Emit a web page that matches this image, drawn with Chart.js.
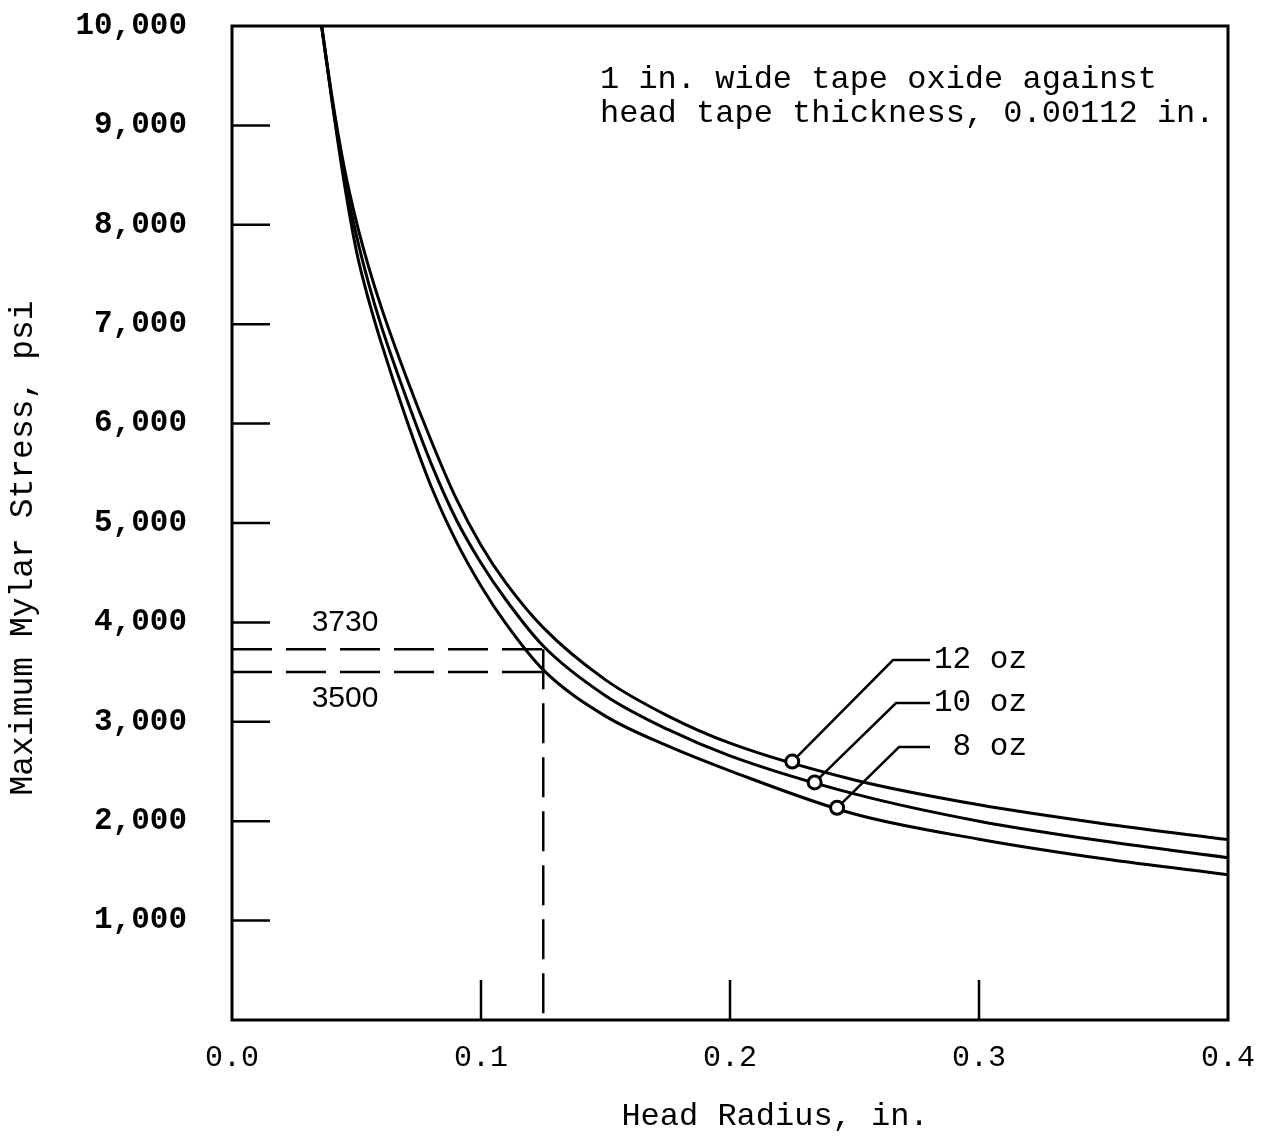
<!doctype html>
<html>
<head>
<meta charset="utf-8">
<script src="https://cdn.jsdelivr.net/npm/chart.js"></script>
<style>
body { margin: 0; background: #fff; }
#chart { display: block; }
</style>
</head>
<body>
<canvas id="chart" width="1272" height="1139"></canvas>
<script>
// head radius (in.) and max mylar stress (psi) for three tape tensions
var radius   = [0.036, 0.04, 0.045, 0.05, 0.055, 0.06, 0.07, 0.08, 0.09, 0.1, 0.11, 0.125, 0.15, 0.175, 0.2, 0.25, 0.3, 0.35, 0.4];
var stress12 = [10000, 9312, 8587, 8027, 7567, 7167, 6467, 5827, 5247, 4777, 4397, 3947, 3422, 3060, 2785, 2415, 2165, 1975, 1815];
var stress10 = [10000, 9288, 8498, 7888, 7398, 6978, 6258, 5598, 5038, 4598, 4228, 3763, 3263, 2923, 2658, 2275, 2000, 1800, 1633];
var stress8  = [10000, 9272, 8432, 7732, 7232, 6807, 6047, 5367, 4817, 4367, 3987, 3522, 3057, 2757, 2507, 2072, 1819, 1622, 1462];

var tensionLabels = ['12 oz', '10 oz', ' 8 oz'];
var markerRadius  = [0.225, 0.234, 0.243];
var markerStress  = [2600, 2390, 2135];

// reading at r = 0.125 in.
var refRadius = 0.125;
var refStress = [3730, 3500];

var xTicks = [0.0, 0.1, 0.2, 0.3, 0.4];
var yTicks = [1000, 2000, 3000, 4000, 5000, 6000, 7000, 8000, 9000, 10000];

var note = ['1 in. wide tape oxide against', 'head tape thickness, 0.00112 in.'];

function pts(xs, ys) {
	return xs.map(function (x, i) { return { x: x, y: ys[i] }; });
}

function curve(label, ys) {
	return {
		label: label,
		data: pts(radius, ys),
		borderColor: '#000',
		borderWidth: 3,
		pointRadius: 0,
		fill: false,
		cubicInterpolationMode: 'monotone'
	};
}

function withCommas(v) {
	return String(v).replace(/\B(?=(\d{3})+(?!\d))/g, ',');
}

// frame, inside ticks, reference lines, leaders and notes
var decorations = {
	id: 'decorations',
	afterDatasetsDraw: function (chart) {
		var ctx = chart.ctx;
		var a = chart.chartArea;
		var xs = chart.scales.x, ys = chart.scales.y;
		ctx.save();
		ctx.strokeStyle = '#000';
		ctx.lineCap = 'butt';

		// dashed reference lines
		ctx.lineWidth = 2.5;
		ctx.setLineDash([40, 14]);
		var rx = xs.getPixelForValue(refRadius);
		refStress.forEach(function (s) {
			var py = ys.getPixelForValue(s);
			ctx.beginPath();
			ctx.moveTo(a.left, py);
			ctx.lineTo(rx, py);
			ctx.stroke();
		});
		ctx.beginPath();
		ctx.moveTo(rx, ys.getPixelForValue(refStress[0]));
		ctx.lineTo(rx, a.bottom);
		ctx.stroke();
		ctx.setLineDash([]);

		ctx.fillStyle = '#000';
		ctx.font = '30px "Liberation Sans"';
		ctx.textAlign = 'center';
		ctx.textBaseline = 'middle';
		ctx.fillText(String(refStress[0]), a.left + 113, ys.getPixelForValue(refStress[0]) - 27);
		ctx.fillText(String(refStress[1]), a.left + 113, ys.getPixelForValue(refStress[1]) + 27);

		// inside ticks
		ctx.lineWidth = 2.5;
		yTicks.slice(0, -1).forEach(function (v) {
			var py = ys.getPixelForValue(v);
			ctx.beginPath();
			ctx.moveTo(a.left, py);
			ctx.lineTo(a.left + 38, py);
			ctx.stroke();
		});
		xTicks.slice(1, -1).forEach(function (v) {
			var px = xs.getPixelForValue(v);
			ctx.beginPath();
			ctx.moveTo(px, a.bottom);
			ctx.lineTo(px, a.bottom - 40);
			ctx.stroke();
		});

		// frame
		ctx.lineWidth = 3;
		ctx.strokeRect(a.left, a.top, a.right - a.left, a.bottom - a.top);

		// leaders from the curve markers to the tension labels
		ctx.lineWidth = 2.5;
		ctx.font = '31px "Liberation Mono"';
		ctx.textAlign = 'left';
		var labelY = [660, 703, 747];
		markerRadius.forEach(function (r, i) {
			var mx = xs.getPixelForValue(r);
			var my = ys.getPixelForValue(markerStress[i]);
			var ex = 893 + i * 3;
			ctx.beginPath();
			ctx.moveTo(mx, my);
			ctx.lineTo(ex, labelY[i]);
			ctx.lineTo(930, labelY[i]);
			ctx.stroke();
			ctx.fillText(tensionLabels[i], 934, labelY[i]);
		});
		markerRadius.forEach(function (r, i) {
			var mx = xs.getPixelForValue(r);
			var my = ys.getPixelForValue(markerStress[i]);
			ctx.beginPath();
			ctx.arc(mx, my, 6.5, 0, Math.PI * 2);
			ctx.fillStyle = '#fff';
			ctx.fill();
			ctx.lineWidth = 3;
			ctx.stroke();
			ctx.fillStyle = '#000';
		});

		// note in the upper right
		ctx.font = '32px "Liberation Mono"';
		ctx.textAlign = 'left';
		ctx.fillText(note[0], 600, 80);
		ctx.fillText(note[1], 600, 114);

		// axis titles
		ctx.textAlign = 'center';
		ctx.fillText('Head Radius, in.', 775, 1117);
		ctx.translate(23, 548);
		ctx.rotate(-Math.PI / 2);
		ctx.font = '33px "Liberation Mono"';
		ctx.fillText('Maximum Mylar Stress, psi', 0, 0);
		ctx.restore();
	}
};

new Chart(document.getElementById('chart'), {
	type: 'line',
	data: {
		datasets: [
			curve('12 oz', stress12),
			curve('10 oz', stress10),
			curve('8 oz', stress8)
		]
	},
	options: {
		responsive: false,
		animation: false,
		layout: { padding: { top: 26, right: 44, left: 0, bottom: 0 } },
		plugins: {
			legend: { display: false },
			tooltip: { enabled: false }
		},
		scales: {
			x: {
				type: 'linear',
				min: 0,
				max: 0.4,
				grid: { display: false, drawTicks: false },
				border: { display: false },
				afterBuildTicks: function (scale) {
					scale.ticks = xTicks.map(function (v) { return { value: v }; });
				},
				afterFit: function (scale) {
					scale.height = 119;
					scale.paddingRight = 0;
				},
				ticks: {
					color: '#000',
					padding: 20,
					font: { family: '"Liberation Mono"', size: 30 },
					callback: function (v) { return v.toFixed(1); }
				}
			},
			y: {
				type: 'linear',
				min: 0,
				max: 10000,
				grid: { display: false, drawTicks: false },
				border: { display: false },
				afterBuildTicks: function (scale) {
					scale.ticks = yTicks.map(function (v) { return { value: v }; });
				},
				afterFit: function (scale) {
					scale.width = 232;
					scale.paddingTop = 0;
					scale.paddingBottom = 0;
				},
				ticks: {
					color: '#000',
					padding: 45,
					font: { family: '"Liberation Mono"', size: 31, weight: 'bold' },
					callback: function (v) { return withCommas(v); }
				}
			}
		}
	},
	plugins: [decorations]
});
</script>
</body>
</html>
